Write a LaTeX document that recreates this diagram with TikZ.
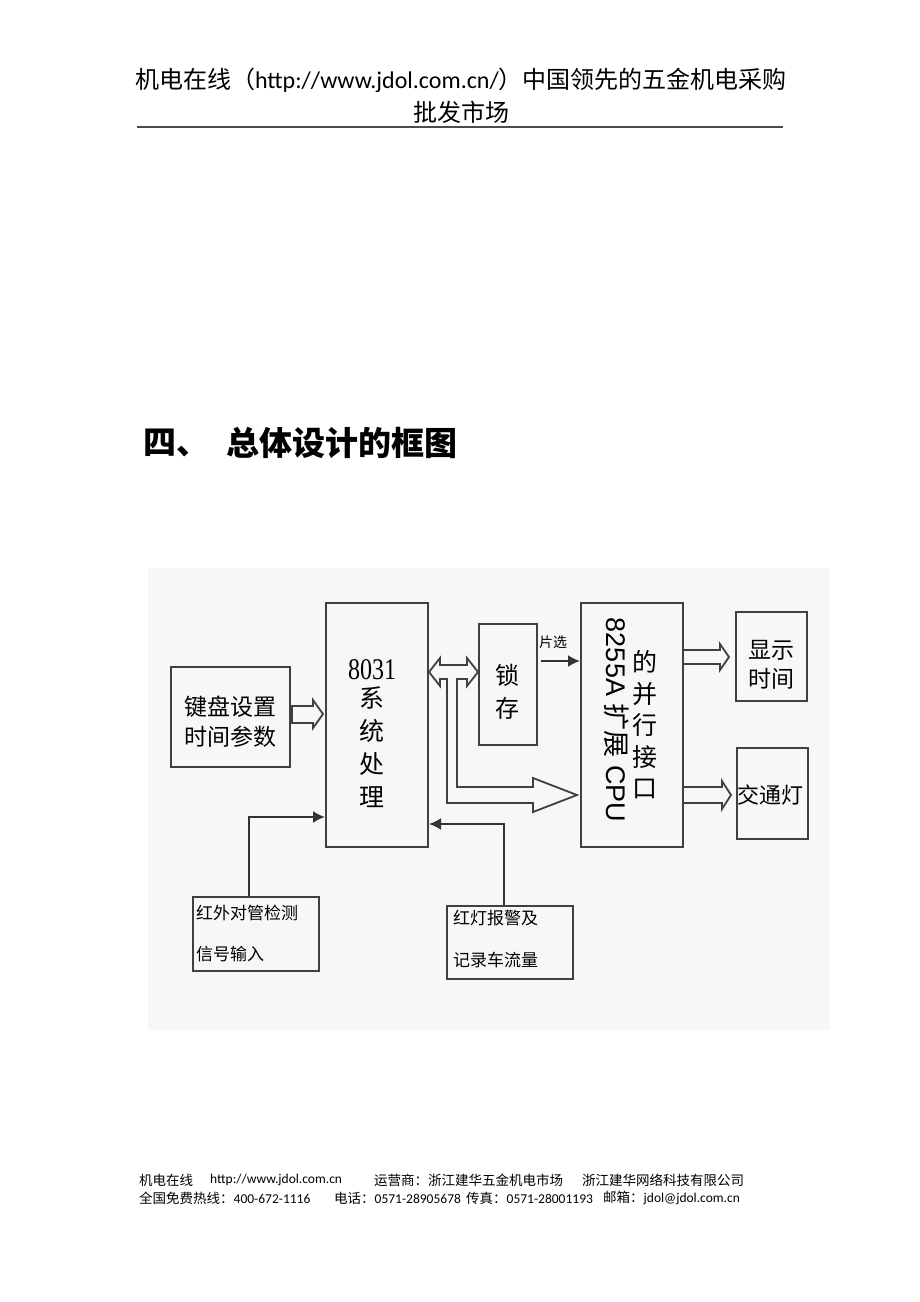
\documentclass[tikz,border=0pt]{standalone}
\usepackage{fontspec}
\setmainfont{Carlito}
\setsansfont{Liberation Sans}
\newfontfamily\cjk{Noto Sans CJK SC}
\newfontfamily\chiffres{Liberation Serif}
\usetikzlibrary{arrows.meta}

\begin{document}
\begin{tikzpicture}[x=1pt,y=-1pt]
		\tikzstyle{bloc} = [draw=black!75,line width=2pt,inner sep=0pt]
		\tikzstyle{fleche} = [->,>={Latex[length=12pt,width=12pt]},line width=2pt,draw=black!80]
		\tikzstyle{creux} = [draw=black!75,line width=1.8pt,line join=miter]
		\tikzstyle{mot} = [font=\cjk,inner sep=0pt]
		
		\fill[white] (0,0) rectangle (920,1302);
		\useasboundingbox (0,0) rectangle (920,1302);
		
		% en-tete
		\node[inner sep=0pt,font=\fontsize{24}{28}\selectfont](Entete) at (461,80) {{\cjk 机电在线（}http://www.jdol.com.cn/{\cjk ）中国领先的五金机电采购}};
		\node[mot,font=\cjk\fontsize{24}{28}\selectfont](Entete2) at (461,112) {批发市场};
		\draw[black!70,line width=1.5pt] (137,127) -- (783,127);
		
		% titre
		\node[mot,anchor=west,font=\cjk\bfseries\fontsize{33}{33}\selectfont](Titre) at (143,443) {四、};
		\node[mot,anchor=west,font=\cjk\bfseries\fontsize{33}{33}\selectfont](Titre2) at (226,443) {总体设计的框图};
		
		% fond du schema
		\fill[black!3] (148,568) rectangle (830,1030);
		
		% blocs
		\node[bloc,minimum width=102pt,minimum height=244pt](CPU8031) at (377,725) {};
		\node[bloc,minimum width=119pt,minimum height=100pt](Clavier) at (230.5,717) {};
		\node[bloc,minimum width=58pt,minimum height=121pt](Verrou) at (508,684.5) {};
		\node[bloc,minimum width=102pt,minimum height=244pt](PPI8255) at (632,725) {};
		\node[bloc,minimum width=71pt,minimum height=89pt](Affichage) at (771.5,656.5) {};
		\node[bloc,minimum width=71pt,minimum height=91pt](Feux) at (772.5,793.5) {};
		\node[bloc,minimum width=126pt,minimum height=74pt](Infrarouge) at (256,934) {};
		\node[bloc,minimum width=126pt,minimum height=73pt](Alarme) at (510,942.5) {};
		
		% textes des blocs
		\node[inner sep=0pt,font=\chiffres\fontsize{24}{24}\selectfont](Nom8031) at (372,670) {\scalebox{1}[1.25]{8031}};
		\node[mot,align=center,font=\cjk\fontsize{25}{33}\selectfont](Systeme) at (372,747.5) {系\\统\\处\\理};
		\node[mot,align=center,font=\cjk\fontsize{23}{30}\selectfont](TexteClavier) at (230,722) {键盘设置\\时间参数};
		\node[mot,align=center,font=\cjk\fontsize{24}{33}\selectfont](TexteVerrou) at (507,691.5) {锁\\存};
		\node[inner sep=0pt,rotate=-90,font=\sffamily\fontsize{27}{27}\selectfont](Nom8255) at (617,720) {8255A {\cjk 扩展} CPU};
		\node[mot,align=center,font=\cjk\fontsize{25}{31.5}\selectfont](Interface) at (645,725) {的\\并\\行\\接\\口};
		\node[mot,align=center,font=\cjk\fontsize{23}{29}\selectfont](TexteAffichage) at (771,664.5) {显示\\时间};
		\node[mot,font=\cjk\fontsize{22}{22}\selectfont](TexteFeux) at (770,795) {交通灯};
		\node[mot,anchor=west,font=\cjk\fontsize{17}{17}\selectfont](Infra1) at (196,913) {红外对管检测};
		\node[mot,anchor=west,font=\cjk\fontsize{17}{17}\selectfont](Infra2) at (196,954) {信号输入};
		\node[mot,anchor=west,font=\cjk\fontsize{17}{17}\selectfont](Alarme1) at (453,918) {红灯报警及};
		\node[mot,anchor=west,font=\cjk\fontsize{17}{17}\selectfont](Alarme2) at (453,960) {记录车流量};
		\node[mot,font=\cjk\fontsize{14}{14}\selectfont](Selection) at (553,642) {片选};
		
		% fleches creuses
		\draw[creux] (292,706) -- (313,706) -- (313,700) -- (323,714) -- (313,728) -- (313,723) -- (292,723) -- cycle;
		\draw[creux] (429,672) -- (440,658) -- (440,665) -- (467,665) -- (467,658) -- (478,672) -- (467,686) -- (467,679) -- (457,679) -- (457,787) -- (533,787) -- (533,778) -- (577,795) -- (533,812) -- (533,803) -- (447,803) -- (447,679) -- (440,679) -- (440,686) -- cycle;
		\draw[creux] (684,650) -- (720,650) -- (720,644) -- (729,657) -- (720,670) -- (720,664) -- (684,664);
		\draw[creux] (684,787) -- (722,787) -- (722,781) -- (731,795) -- (722,809) -- (722,803) -- (684,803);
		
		% fleches simples
		\coordinate (Depart) at (541,661);
		\draw[fleche] (Depart) -- (Depart -| PPI8255.west);
		\draw[fleche] ([xshift=-7pt]Infrarouge.north) |- ([yshift=-92pt]CPU8031.west);
		\draw[fleche] ([xshift=-6pt]Alarme.north) |- ([yshift=-99pt]CPU8031.east);
		
		% pied de page
		\node[inner sep=0pt,anchor=west,font=\cjk\fontsize{13.5}{14}\selectfont](Pied1) at (139,1180) {机电在线};
		\node[inner sep=0pt,anchor=west,font=\fontsize{13.5}{14}\selectfont](Pied2) at (210,1180) {http://www.jdol.com.cn};
		\node[inner sep=0pt,anchor=west,font=\cjk\fontsize{13.5}{14}\selectfont](Pied3) at (374,1180) {运营商：浙江建华五金机电市场};
		\node[inner sep=0pt,anchor=west,font=\cjk\fontsize{13.5}{14}\selectfont](Pied4) at (582,1180) {浙江建华网络科技有限公司};
		\node[inner sep=0pt,anchor=west,font=\fontsize{13.5}{14}\selectfont](Pied5) at (139,1198) {{\cjk 全国免费热线：}400-672-1116};
		\node[inner sep=0pt,anchor=west,font=\fontsize{13.5}{14}\selectfont](Pied6) at (334,1198) {{\cjk 电话：}0571-28905678};
		\node[inner sep=0pt,anchor=west,font=\fontsize{13.5}{14}\selectfont](Pied7) at (466,1198) {{\cjk 传真：}0571-28001193};
		\node[inner sep=0pt,anchor=west,font=\fontsize{13.5}{14}\selectfont](Pied8) at (603,1198) {{\cjk 邮箱：}jdol@jdol.com.cn};
		\end{tikzpicture}
\end{document}
